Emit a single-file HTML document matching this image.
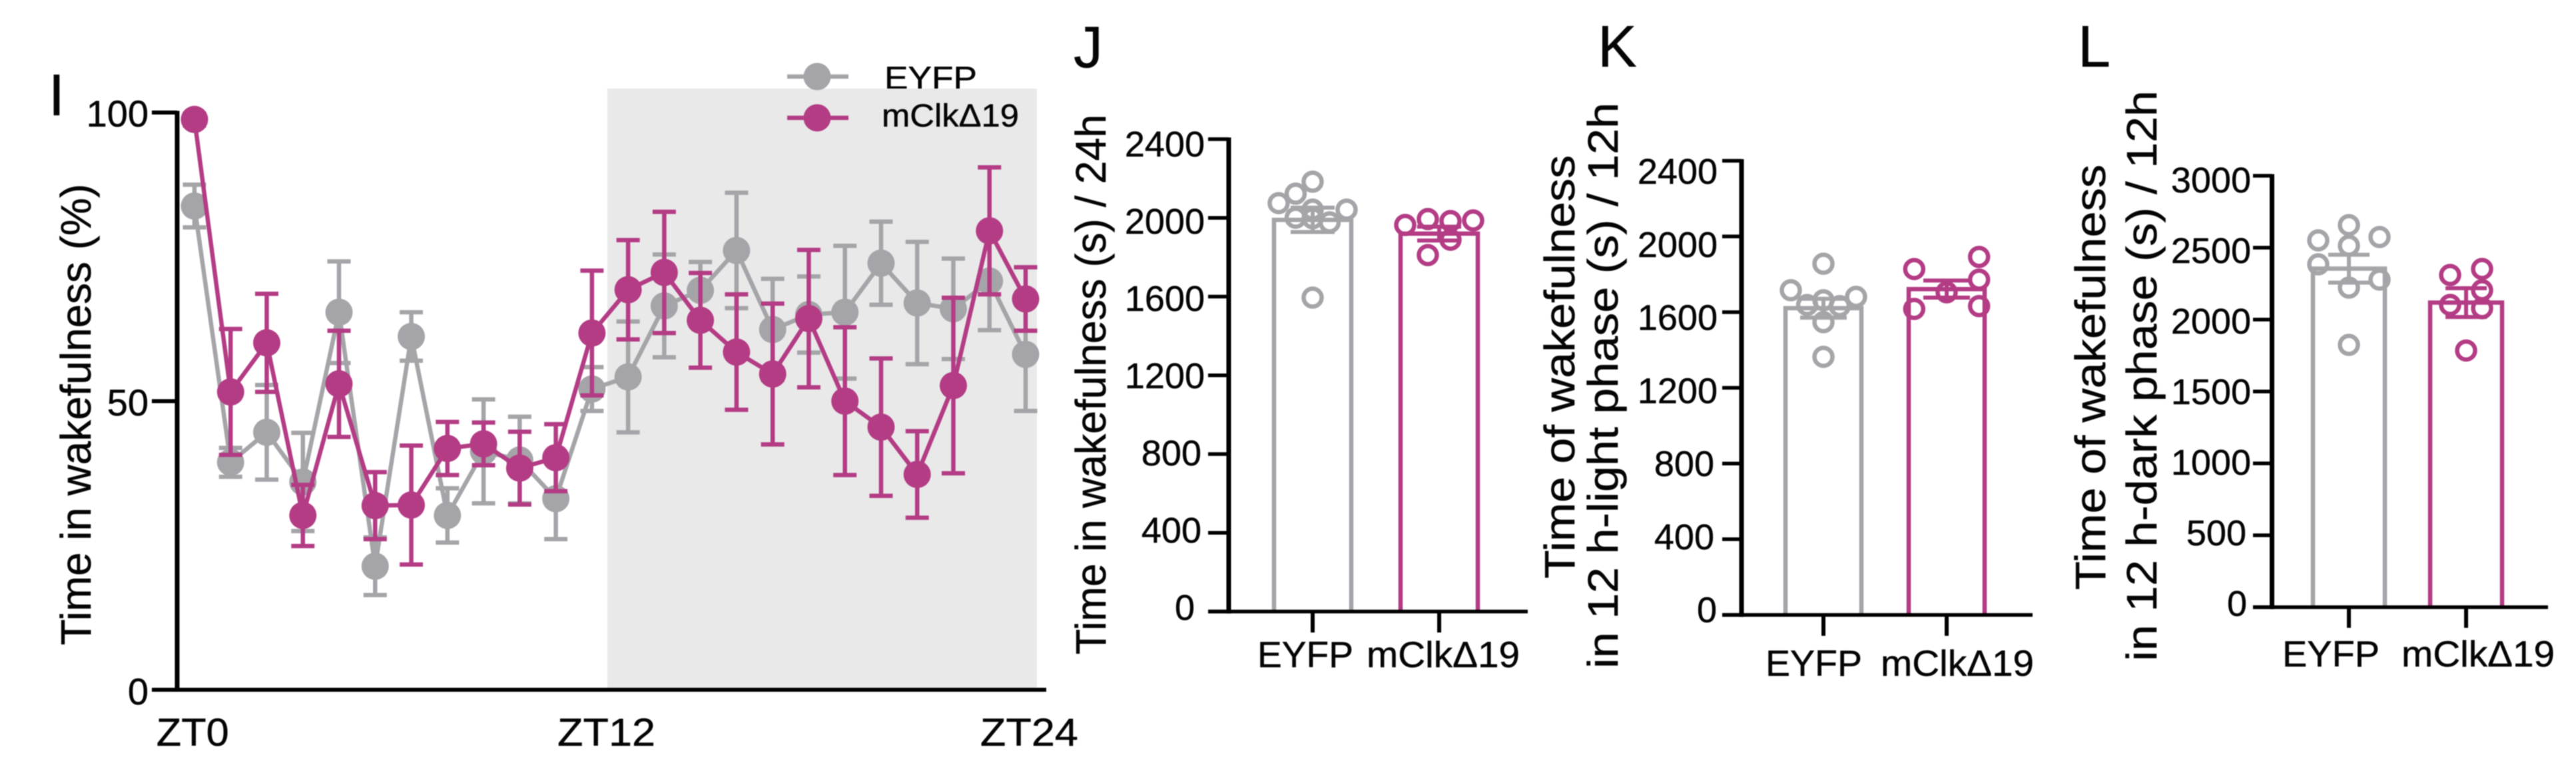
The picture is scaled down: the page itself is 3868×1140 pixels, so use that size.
<!DOCTYPE html>
<html lang="en">
<head>
<meta charset="utf-8">
<title>Wakefulness panels I, J, K and L</title>
<style>
html,body{margin:0;padding:0;background:#fff;}
svg{display:block;filter:blur(0.7px);}
text{font-family:"Liberation Sans",Arial,sans-serif;fill:#050505;stroke:#050505;stroke-width:0.5px;}
</style>
</head>
<body>
<svg id="figure" xmlns="http://www.w3.org/2000/svg" width="3868" height="1140" viewBox="0 0 3868 1140">
  <rect x="0" y="0" width="3868" height="1140" fill="#ffffff"/>

  <text x="1328" y="133.5" font-size="48" textLength="139" lengthAdjust="spacingAndGlyphs">EYFP</text>
  <rect x="912" y="133" width="645" height="900" fill="#e9e9e9"/>
  <text x="1324" y="190" font-size="48" textLength="206" lengthAdjust="spacingAndGlyphs">mClkΔ19</text>
  <g>
    <line x1="1182" y1="115" x2="1274" y2="115" stroke="#a5a5a9" stroke-width="6.5"/>
    <circle cx="1227" cy="115" r="20.5" fill="#a5a5a9"/>
  </g>
  <g>
    <line x1="1182" y1="177" x2="1274" y2="177" stroke="#b33c85" stroke-width="6.5"/>
    <circle cx="1227" cy="177" r="20.5" fill="#b33c85"/>
  </g>

  <text x="85" y="173" font-size="88" text-anchor="middle">I</text>
  <text x="1612" y="101" font-size="88">J</text>
  <text x="2399" y="100" font-size="88">K</text>
  <text x="3120" y="100" font-size="88">L</text>

  <text transform="translate(136,969) rotate(-90)" font-size="64" textLength="693" lengthAdjust="spacingAndGlyphs">Time in wakefulness (%)</text>
  <text transform="translate(1660,983) rotate(-90)" font-size="64" textLength="811" lengthAdjust="spacingAndGlyphs">Time in wakefulness (s) / 24h</text>
  <text transform="translate(2364,869) rotate(-90)" font-size="64" textLength="636" lengthAdjust="spacingAndGlyphs">Time of wakefulness</text>
  <text transform="translate(2429,1004) rotate(-90)" font-size="64" textLength="850" lengthAdjust="spacingAndGlyphs">in 12 h-light phase (s) / 12h</text>
  <text transform="translate(3161,886) rotate(-90)" font-size="64" textLength="639" lengthAdjust="spacingAndGlyphs">Time of wakefulness</text>
  <text transform="translate(3238,993) rotate(-90)" font-size="64" textLength="857" lengthAdjust="spacingAndGlyphs">in 12 h-dark phase (s) / 12h</text>

  <g id="plot-i"></g>
  <g id="plot-j"></g>
  <g id="plot-k"></g>
  <g id="plot-l"></g>
</svg>

<script>
// ---------- Panel I data ----------
const timeBins = [0,1,2,3,4,5,6,7,8,9,10,11,12,13,14,15,16,17,18,19,20,21,22,23];
const lineTicks = [0,50,100];
const timeTickBins = [-0.05,11.4,23.1];
const timeTickLabels = ['ZT0','ZT12','ZT24'];
const eyfpWake = [83.8,39.4,44.6,36,65.4,21.4,61.2,30.2,41.3,39.8,33.1,52.1,54.2,66.5,69.2,76.1,62.4,65,65.4,73.9,67,66,70.8,58.1];
const eyfpWakeErr = [3.7,2.5,8.2,8.5,8.8,5,4.2,4.7,9,7.5,7,3.8,9.6,8.9,4.9,10,8.8,6.6,11.5,7.2,10.6,8.7,8.5,9.8];
const mclkWake = [98.8,51.6,60.1,30.2,53,31.9,32,41.8,42.6,38.4,40.2,61.8,69.3,72.3,64,58.5,54.7,64.3,50,45.5,37.3,52.7,79.5,67.7];
const mclkWakeErr = [1,10.9,8.5,5.3,9.2,5.8,10.3,4.6,3.7,6.3,5.8,10.8,8.6,10.5,8.2,10,12.2,11.9,12.8,11.9,7.5,15.2,11,5.5];

// ---------- Bar panel data ----------
const barCategories = ['EYFP','mClkΔ19'];
const jTicks = [0,400,800,1200,1600,2000,2400];
const jBarMeans = [1990,1920];
const jBarErrs = [62,35];
const jEyfpPoints = [2184,2123,2075,2042,2042,2001,1977,1998,1595];
const jEyfpSlots = [0,-1,-2,2,0,-1,1,0,0];
const jMclkPoints = [1964,1994,1984,1987,1811,1889];
const jMclkSlots = [-1.5,-0.5,0.5,1.5,-0.5,0.5];

const kTicks = [0,400,800,1200,1600,2000,2400];
const kBarMeans = [1621,1722];
const kBarErrs = [50,45];
const kEyfpPoints = [1856,1716,1681,1663,1638,1632,1547,1364];
const kEyfpSlots = [0,-2,2,0,-1,1,0,0];
const kMclkPoints = [1828,1892,1772,1705,1617,1632];
const kMclkSlots = [-1,1,1,0,-1,1];

const lTicks = [0,500,1000,1500,2000,2500,3000];
const lBarMeans = [2354,2118];
const lBarErrs = [97,100];
const lEyfpPoints = [2657,2574,2551,2514,2384,2278,2222,1824];
const lEyfpSlots = [0,1,-1,0,-1,1,0,0];
const lMclkPoints = [2352,2310,2204,2102,2079,1785];
const lMclkSlots = [1,-1,1,-1,1,0];

// ---------- Helpers ----------
const NS = 'http://www.w3.org/2000/svg';
const GRAY = '#a5a5a9';
const MAGENTA = '#b33c85';
const INK = '#000000';

function make(parent, tag, attrs, content) {
  const node = document.createElementNS(NS, tag);
  for (const key in attrs) node.setAttribute(key, attrs[key]);
  if (content !== undefined) node.textContent = content;
  parent.appendChild(node);
  return node;
}
function linear(d0, d1, r0, r1) {
  return function (v) { return r0 + (v - d0) * (r1 - r0) / (d1 - d0); };
}

// ---------- Panel I ----------
(function drawLinePanel() {
  const root = document.getElementById('plot-i');
  const x = linear(0, 23, 292, 1540);
  const y = linear(0, 100, 1036, 169);
  const labelY = linear(0, 100, 1058, 190);
  const W = 6.5;

  function drawSeries(name, values, errs, color) {
    const group = make(root, 'g', {});
    
    
    timeBins.forEach(function (bin, i) {
      const stem = make(group, 'line', {x1: x(bin), x2: x(bin), y1: y(values[i] + errs[i]), y2: y(values[i] - errs[i]), stroke: color, 'stroke-width': W});
      
      
      const capTop = make(group, 'line', {x1: x(bin) - 17.5, x2: x(bin) + 17.5, y1: y(values[i] + errs[i]), y2: y(values[i] + errs[i]), stroke: color, 'stroke-width': W});
      
      
      const capBottom = make(group, 'line', {x1: x(bin) - 17.5, x2: x(bin) + 17.5, y1: y(values[i] - errs[i]), y2: y(values[i] - errs[i]), stroke: color, 'stroke-width': W});
      
      
    });
    const pts = timeBins.map(function (bin, i) { return x(bin) + ',' + y(values[i]); }).join(' ');
    const line = make(group, 'polyline', {points: pts, fill: 'none', stroke: color, 'stroke-width': W, 'stroke-linejoin': 'round'});
    
    
    timeBins.forEach(function (bin, i) {
      const dot = make(group, 'circle', {cx: x(bin), cy: y(values[i]), r: 20.5, fill: color});
      
      
    });
  }
  drawSeries('eyfp', eyfpWake, eyfpWakeErr, GRAY);
  drawSeries('mclk', mclkWake, mclkWakeErr, MAGENTA);

  const yAxis = make(root, 'line', {x1: 266, x2: 266, y1: y(100) - 2.5, y2: y(0) + 3, stroke: INK, 'stroke-width': 7});
  
  
  const xAxis = make(root, 'line', {x1: 266, x2: 1571, y1: y(0), y2: y(0), stroke: INK, 'stroke-width': 6});
  
  

  lineTicks.forEach(function (t) {
    const tick = make(root, 'line', {x1: 228, x2: 266, y1: y(t), y2: y(t), stroke: INK, 'stroke-width': 6});
    
    
    const label = make(root, 'text', {x: 223, y: labelY(t), 'font-size': 56, 'text-anchor': 'end'}, String(t));
    
    
  });
  timeTickLabels.forEach(function (text, i) {
    const label = make(root, 'text', {x: x(timeTickBins[i]), y: 1120, 'font-size': 58, 'text-anchor': 'middle', textLength: i === 0 ? 109 : 147, lengthAdjust: 'spacingAndGlyphs'}, text);
    
    
  });
})();

// ---------- Panels J, K, L ----------
function drawBarPanel(cfg) {
  const root = document.getElementById(cfg.rootId);
  const y = linear(0, cfg.ticks[cfg.ticks.length - 1], cfg.zeroY, cfg.topY);
  const labelY = linear(0, cfg.ticks[cfg.ticks.length - 1], cfg.labelZeroY, cfg.labelTopY);
  const catX = function (i) { return cfg.firstX + i * cfg.stepX; };
  const colors = [GRAY, MAGENTA];

  barCategories.forEach(function (cat, i) {
    const cx = catX(i);
    const color = colors[i];
    const key = i === 0 ? 'eyfp' : 'mclk';
    const group = make(root, 'g', {});
    
    

    const top = y(cfg.means[i]);
    const d = 'M' + (cx - cfg.halfBar) + ' ' + cfg.zeroY + 'V' + top + 'H' + (cx + cfg.halfBar) + 'V' + cfg.zeroY;
    const bar = make(group, 'path', {d: d, fill: '#ffffff', stroke: color, 'stroke-width': 6.5});
    
    

    const hi = y(cfg.means[i] + cfg.errs[i]);
    const lo = y(cfg.means[i] - cfg.errs[i]);
    const stem = make(group, 'line', {x1: cx, x2: cx, y1: hi, y2: lo, stroke: color, 'stroke-width': 6});
    
    
    const capHi = make(group, 'line', {x1: cx - cfg.capHalf, x2: cx + cfg.capHalf, y1: hi, y2: hi, stroke: color, 'stroke-width': 6});
    
    
    const capLo = make(group, 'line', {x1: cx - cfg.capHalf, x2: cx + cfg.capHalf, y1: lo, y2: lo, stroke: color, 'stroke-width': 6});
    
    

    cfg.points[i].forEach(function (v, j) {
      const dot = make(group, 'circle', {cx: cx + cfg.slots[i][j] * cfg.slotUnits[i], cy: y(v), r: 13.5, fill: 'none', stroke: color, 'stroke-width': 6.5});
      
      
    });

    const xTick = make(root, 'line', {x1: cx, x2: cx, y1: cfg.zeroY, y2: cfg.xTickEnd, stroke: INK, 'stroke-width': 6});
    
    
    const label = make(root, 'text', {x: cfg.catLabelX[i], y: cfg.catLabelY, 'font-size': 55, textLength: cfg.catLabelW[i], lengthAdjust: 'spacingAndGlyphs'}, cat);
    
    
  });

  const yAxis = make(root, 'line', {x1: cfg.axisX, x2: cfg.axisX, y1: cfg.topY - 2.5, y2: cfg.zeroY + 3, stroke: INK, 'stroke-width': 7});
  
  
  const xAxis = make(root, 'line', {x1: cfg.tickLeft, x2: cfg.axisRight, y1: cfg.zeroY, y2: cfg.zeroY, stroke: INK, 'stroke-width': 5.5});
  
  

  cfg.ticks.forEach(function (t) {
    const tick = make(root, 'line', {x1: cfg.tickLeft, x2: cfg.axisX, y1: y(t), y2: y(t), stroke: INK, 'stroke-width': 5.5});
    
    
    const text = String(t);
    const label = make(root, 'text', {x: cfg.labelRight[text.length], y: labelY(t), 'font-size': 54, 'text-anchor': 'end'}, text);
    
    
  });
}

drawBarPanel({
  id: 'panel-j', rootId: 'plot-j', ticks: jTicks, means: jBarMeans, errs: jBarErrs,
  points: [jEyfpPoints, jMclkPoints], slots: [jEyfpSlots, jMclkSlots], slotUnits: [25.5, 34],
  zeroY: 918.5, topY: 209, labelZeroY: 931, labelTopY: 235,
  axisX: 1845, tickLeft: 1814, axisRight: 2294, xTickEnd: 950,
  firstX: 1971, stepX: 190, halfBar: 58, capHalf: 33,
  labelRight: {4: 1809, 3: 1804, 1: 1794},
  catLabelX: [1888, 2052], catLabelY: 1002, catLabelW: [144, 230]
});
drawBarPanel({
  id: 'panel-k', rootId: 'plot-k', ticks: kTicks, means: kBarMeans, errs: kBarErrs,
  points: [kEyfpPoints, kMclkPoints], slots: [kEyfpSlots, kMclkSlots], slotUnits: [24.5, 48.7],
  zeroY: 923.6, topY: 241.5, labelZeroY: 934.5, labelTopY: 276,
  axisX: 2615, tickLeft: 2586, axisRight: 3052, xTickEnd: 955,
  firstX: 2738, stepX: 185, halfBar: 57, capHalf: 35,
  labelRight: {4: 2579, 3: 2574, 1: 2578},
  catLabelX: [2651, 2824], catLabelY: 1015, catLabelW: [145, 230]
});
drawBarPanel({
  id: 'panel-l', rootId: 'plot-l', ticks: lTicks, means: lBarMeans, errs: lBarErrs,
  points: [lEyfpPoints, lMclkPoints], slots: [lEyfpSlots, lMclkSlots], slotUnits: [46, 24],
  zeroY: 912, topY: 264, labelZeroY: 925, labelTopY: 289,
  axisX: 3411.5, tickLeft: 3383, axisRight: 3826, xTickEnd: 943,
  firstX: 3527, stepX: 176, halfBar: 54, capHalf: 31,
  labelRight: {4: 3380, 3: 3373, 1: 3374},
  catLabelX: [3427, 3606], catLabelY: 1001, catLabelW: [146, 230]
});
</script>
</body>
</html>
